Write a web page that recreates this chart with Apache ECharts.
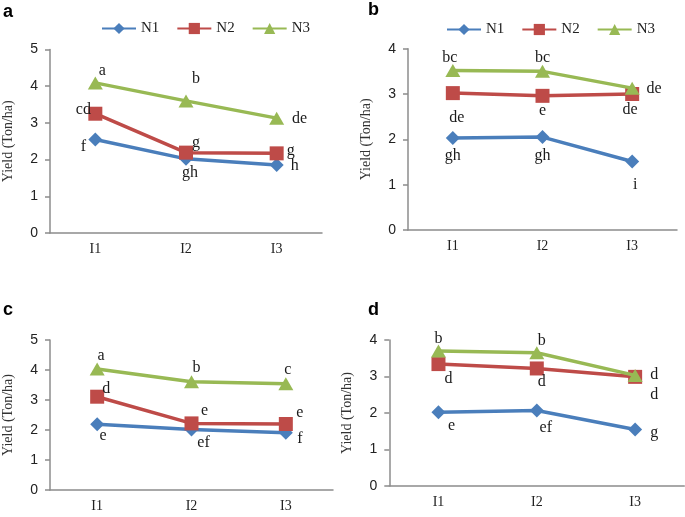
<!DOCTYPE html>
<html>
<head>
<meta charset="utf-8">
<script src="https://cdn.jsdelivr.net/npm/echarts@6/dist/echarts.min.js"></script>
<style>html,body{margin:0;padding:0;background:#fff}#c{width:685px;height:517px}</style>
</head>
<body>
<div id="c"></div>
<script>
// ---- data ----
var categories = ['I1', 'I2', 'I3'];
var seriesNames = ['N1', 'N2', 'N3'];
var panelLetters = ['a', 'b', 'c', 'd'];
var yMax = [5, 4, 5, 4];

var a_N1 = [2.55, 2.02, 1.85];
var a_N2 = [3.25, 2.19, 2.17];
var a_N3 = [4.09, 3.60, 3.13];
var a_L1 = ['f', 'gh', 'h'];
var a_L2 = ['cd', 'g', 'g'];
var a_L3 = ['a', 'b', 'de'];

var b_N1 = [2.03, 2.05, 1.51];
var b_N2 = [3.02, 2.96, 3.00];
var b_N3 = [3.52, 3.50, 3.13];
var b_L1 = ['gh', 'gh', 'i'];
var b_L2 = ['de', 'e', 'de'];
var b_L3 = ['bc', 'bc', 'de'];

var c_N1 = [2.19, 2.02, 1.91];
var c_N2 = [3.11, 2.22, 2.20];
var c_N3 = [4.03, 3.61, 3.54];
var c_L1 = ['e', 'ef', 'f'];
var c_L2 = ['d', 'e', 'e'];
var c_L3 = ['a', 'b', 'c'];

var d_N1 = [2.02, 2.07, 1.55];
var d_N2 = [3.34, 3.22, 2.99];
var d_N3 = [3.70, 3.65, 3.03];
var d_L1 = ['e', 'ef', 'g'];
var d_L2 = ['d', 'd', 'd'];
var d_L3 = ['b', 'b', 'd'];

// ---- layout / style ----
var panels = [
  {vals: [a_N1, a_N2, a_N3], labs: [a_L1, a_L2, a_L3],
   off: [[[-12,7],[4,14],[18,1]], [[-12,-4],[10,-10],[14,-3]], [[7,-12],[10,-22],[23,1]]]},
  {vals: [b_N1, b_N2, b_N3], labs: [b_L1, b_L2, b_L3],
   off: [[[0,18],[0,19],[3,23]], [[4,25],[0,15],[-2,16]], [[-3,-13],[0,-14],[22,1]]]},
  {vals: [c_N1, c_N2, c_N3], labs: [c_L1, c_L2, c_L3],
   off: [[[6,11],[12,13],[14,6]], [[9,-8],[13,-13],[14,-11]], [[4,-13],[5,-14],[2,-14]]]},
  {vals: [d_N1, d_N2, d_N3], labs: [d_L1, d_L2, d_L3],
   off: [[[13,14],[9,17],[19,3]], [[10,15],[5,13],[19,18]], [[0,-12],[5,-12],[19,-1]]]}
];
var grids = [
  {left: 44, top: 49.5, width: 278, height: 183.5},
  {left: 408, top: 48.7, width: 269, height: 181.3},
  {left: 44, top: 340, width: 289, height: 150},
  {left: 389.3, top: 340, width: 295, height: 146}
];
var colors = ['#4A7EBB', '#BE4B48', '#98B954'];
var symbols = ['diamond', 'rect', 'triangle'];
var symSizes = [[14, 14], [14, 14], [15, 13]];
var axisColor = '#8c8c8c';
var serif = '"Liberation Serif", "Times New Roman", serif';
var sans = '"Liberation Sans", Arial, sans-serif';

var xAxis = [], yAxis = [], series = [];
panels.forEach(function (p, gi) {
  xAxis.push({
    type: 'category', gridIndex: gi, data: categories, boundaryGap: true,
    axisLine: {lineStyle: {color: axisColor, width: 1.5}},
    axisTick: {show: false},
    axisLabel: {fontFamily: serif, fontSize: 14, color: '#222', margin: 9}
  });
  yAxis.push({
    type: 'value', gridIndex: gi, min: 0, max: yMax[gi], interval: 1,
    name: 'Yield (Ton/ha)', nameLocation: 'middle', nameGap: 35,
    nameTextStyle: {fontFamily: serif, fontSize: 14, color: '#333'},
    axisLine: {show: true, lineStyle: {color: axisColor, width: 1.5}},
    axisTick: {show: true, inside: false, length: 5, lineStyle: {color: axisColor, width: 1.5}},
    axisLabel: {fontFamily: sans, fontSize: 14, color: '#222', margin: 12},
    splitLine: {show: false}
  });
  for (var s = 0; s < 3; s++) {
    (function (s) {
      var labs = p.labs[s];
      var offs = p.off[s];
      series.push({
        name: seriesNames[s], type: 'line', xAxisIndex: gi, yAxisIndex: gi,
        data: p.vals[s], symbol: symbols[s], symbolSize: symSizes[s], showAllSymbol: true,
        color: colors[s],
        lineStyle: {width: 3.5, color: colors[s]},
        itemStyle: {color: colors[s]},
        z: 2 + s,
        label: {
          show: true, position: 'inside',
          fontFamily: serif, fontSize: 16, color: '#1a1a1a',
          formatter: function (prm) { return labs[prm.dataIndex]; }
        },
        labelLayout: function (prm) {
          var o = offs[prm.dataIndex];
          return {dx: o[0], dy: o[1], hideOverlap: false};
        },
        animation: false
      });
    })(s);
  }
});

var legendCommon = {
  data: seriesNames, orient: 'horizontal', itemWidth: 34, itemHeight: 14, itemGap: 17,
  textStyle: {fontFamily: serif, fontSize: 15, color: '#222'},
  padding: 0
};

var chart = echarts.init(document.getElementById('c'), null, {renderer: 'canvas'});
chart.setOption({
  backgroundColor: '#ffffff',
  animation: false,
  grid: grids,
  xAxis: xAxis,
  yAxis: yAxis,
  legend: [
    Object.assign({left: 101, top: 21}, legendCommon),
    Object.assign({left: 446, top: 22}, legendCommon)
  ],
  graphic: [
    {type: 'text', left: 3, top: 3, style: {text: panelLetters[0], font: 'bold 18px ' + sans, fill: '#000'}},
    {type: 'text', left: 368, top: 1, style: {text: panelLetters[1], font: 'bold 18px ' + sans, fill: '#000'}},
    {type: 'text', left: 3, top: 301, style: {text: panelLetters[2], font: 'bold 18px ' + sans, fill: '#000'}},
    {type: 'text', left: 368, top: 301, style: {text: panelLetters[3], font: 'bold 18px ' + sans, fill: '#000'}}
  ],
  series: series
});
</script>
</body>
</html>
